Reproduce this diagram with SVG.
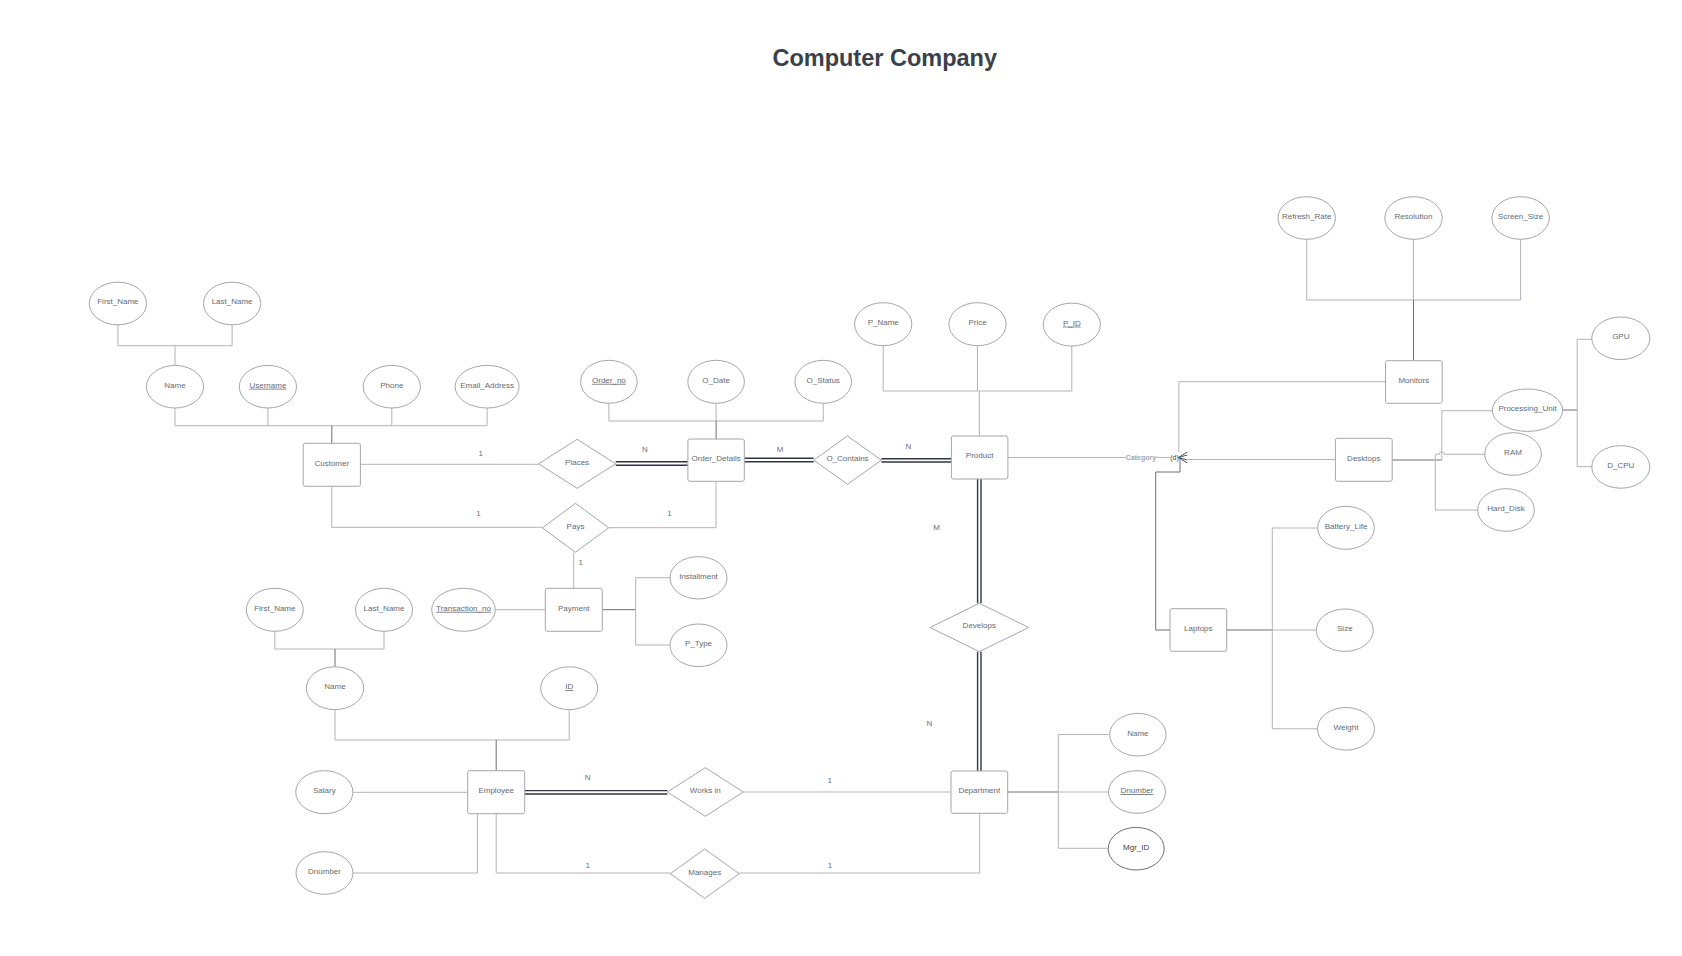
<svg xmlns="http://www.w3.org/2000/svg" width="1682" height="956" viewBox="0 0 1682 956">
<style>
.e{fill:#fff;stroke:#a3a6ab;stroke-width:1}
.b{fill:#fff;stroke:#a3a6ab;stroke-width:1}
.r{fill:#fff;stroke:#a3a6ab;stroke-width:1}
.t{font-family:"Liberation Sans",Arial,sans-serif;font-size:8px;fill:#656a72;text-anchor:middle;transform:translateY(-1.8px)}
.u{text-decoration:underline}
.c{fill:none;stroke:#b0b3b8;stroke-width:1}
.k{fill:none;stroke:#6a6f77;stroke-width:1}
.d{fill:none;stroke:#2f3540;stroke-width:1.4}
.lab{font-family:"Liberation Sans",Arial,sans-serif;font-size:8px;fill:#6a7078;text-anchor:middle}
</style>
<rect width="1682" height="956" fill="#fff"/>
<text x="884.7" y="66" font-family="'Liberation Sans',Arial,sans-serif" font-size="23.5" font-weight="bold" fill="#3a414a" text-anchor="middle">Computer Company</text>

<g id="connectors">
<path class="c" d="M117.9 324.8V345.7H232.1V324.8M175 345.7V365.4"/>
<path class="c" d="M175 408V425.7H487.1V408M267.9 408V425.7M391.8 408V425.7"/>
<path class="k" d="M331.8 425.7V443.3"/>
<path class="c" d="M360.4 464.3H538.6"/>
<path class="d" d="M615.7 461.8H687.9M615.7 465.3H687.9"/>
<path class="c" d="M331.8 486.3V527.3H542.3"/>
<path class="c" d="M608.7 527.7H716V481.3"/>
<path class="c" d="M573.7 552.3V588.3"/>
<path class="c" d="M608.9 403.3V421H823.2V403.3M716.1 403.3V421"/>
<path class="k" d="M716.1 421V439"/>
<path class="d" d="M744.3 458.3H813.6M744.3 461.7H813.6"/>
<path class="d" d="M881.4 458.7H951.4M881.4 462H951.4"/>
<path class="c" d="M883.2 345.5V391H1071.8V346M977.5 345.5V391"/>
<path class="c" d="M979.3 391V436"/>
<path class="d" d="M977.6 479V603.3M981 479V603.3"/>
<path class="d" d="M977.6 651.7V771M981 651.7V771"/>
<path class="c" d="M274.8 631.3V649H384V631.3"/>
<path class="k" d="M335 649V666.7"/>
<path class="c" d="M335 709.6V740H569.2V709.6"/>
<path class="k" d="M496.2 740V770.7"/>
<path class="c" d="M353 792.3H467.7"/>
<path class="c" d="M477.5 813.7V873H352.9"/>
<path class="d" d="M524.7 790.6H667.3M524.7 794H667.3"/>
<path class="c" d="M742.6 792H951"/>
<path class="c" d="M496.2 813.7V873H670.3"/>
<path class="c" d="M739.2 873H979.7V813.3"/>
<path class="k" d="M1007.7 792H1058.3"/>
<path class="c" d="M1058.3 734.5V848.3M1058.3 734.5H1109.3M1058.3 792H1108.5M1058.3 848.3H1108.3"/>
<path class="c" d="M495.3 609.7H545.3"/>
<path class="k" d="M602.3 609.7H635.7"/>
<path class="c" d="M635.7 577.7V645M635.7 577.7H670M635.7 645H670"/>
<path class="c" d="M1007.9 457.5H1170"/>
<rect x="1125.5" y="452.5" width="31" height="9" fill="#fff"/>
<text x="1141" y="459.7" font-family="'Liberation Sans',Arial,sans-serif" font-size="7" font-weight="bold" fill="#a3a6ab" text-anchor="middle">Category</text>
<text x="1174.5" y="460" font-family="'Liberation Sans',Arial,sans-serif" font-size="7" fill="#3a414a" text-anchor="middle">(d)</text>
<path fill="none" stroke="#3a414a" stroke-width="0.9" d="M1187.3 452L1178.5 457.5L1187.3 463M1187.3 455L1178.5 457.5L1187.3 460"/>
<path class="c" d="M1385.5 381.7H1178.9V452"/>
<path class="c" d="M1335.4 459.5H1186"/>
<path class="k" d="M1180 459V472H1155.7V630H1170"/>
<path class="c" d="M1306.7 239.3V300H1520.6V239.3M1413.5 239.3V300"/>
<path class="k" d="M1413.5 300V360.7"/>
<path class="k" d="M1392.2 460H1441.8"/>
<path class="c" d="M1441.8 460V410.7H1492.3"/>
<path class="c" d="M1435.3 460V454.3H1439.3A2.5 2.5 0 0 1 1444.3 454.3H1484.7"/>
<path class="c" d="M1435.3 460V510H1477.7"/>
<path class="k" d="M1562.7 410H1577.2"/>
<path class="c" d="M1577.2 339.3V466.7M1577.2 339.3H1591.8M1577.2 466.7H1591.8"/>
<path class="k" d="M1226.7 630H1272.3"/>
<path class="c" d="M1272.3 528V728.8M1272.3 528H1317.7M1272.3 630H1316.3M1272.3 728.8H1317.4"/>
</g>

<g id="cardinalities">
<text class="lab" x="480.7" y="455.5">1</text>
<text class="lab" x="645" y="451.8">N</text>
<text class="lab" x="478.6" y="516">1</text>
<text class="lab" x="669.5" y="516">1</text>
<text class="lab" x="580.7" y="565">1</text>
<text class="lab" x="780" y="451.8">M</text>
<text class="lab" x="908.5" y="448.8">N</text>
<text class="lab" x="936.6" y="529.8">M</text>
<text class="lab" x="929.3" y="725.8">N</text>
<text class="lab" x="587.7" y="779.5">N</text>
<text class="lab" x="829.8" y="782.8">1</text>
<text class="lab" x="587.7" y="867.8">1</text>
<text class="lab" x="829.9" y="867.8">1</text>
</g>

<g id="Customer"><rect class="b" x="303.2" y="443.3" width="57.2" height="43" rx="2"/><text class="t" x="331.8" y="467.6">Customer</text></g>
<g id="Order_Details"><rect class="b" x="687.9" y="439" width="56.4" height="42.3" rx="2"/><text class="t" x="716.1" y="463">Order_Details</text></g>
<g id="Product"><rect class="b" x="951.4" y="436" width="56.5" height="43" rx="2"/><text class="t" x="979.6" y="460.3">Product</text></g>
<g id="Monitors"><rect class="b" x="1385.5" y="360.7" width="56.7" height="42.6" rx="2"/><text class="t" x="1413.8" y="384.8">Monitors</text></g>
<g id="Desktops"><rect class="b" x="1335.4" y="438.3" width="56.8" height="43" rx="2"/><text class="t" x="1363.8" y="462.6">Desktops</text></g>
<g id="Laptops"><rect class="b" x="1170" y="608.7" width="56.7" height="42.6" rx="2"/><text class="t" x="1198.3" y="632.8">Laptops</text></g>
<g id="Payment"><rect class="b" x="545.3" y="588.3" width="57" height="43" rx="2"/><text class="t" x="573.8" y="612.6">Payment</text></g>
<g id="Employee"><rect class="b" x="467.7" y="770.7" width="57" height="43" rx="2"/><text class="t" x="496.2" y="795">Employee</text></g>
<g id="Department"><rect class="b" x="951" y="771" width="56.7" height="42.3" rx="2"/><text class="t" x="979.3" y="795">Department</text></g>

<g id="Places"><polygon class="r" points="538.6,463.8 577.1,439.3 615.7,463.8 577.1,488.3"/><text class="t" x="577.1" y="466.6">Places</text></g>
<g id="O_Contains"><polygon class="r" points="813.6,460.2 847.5,436 881.4,460.2 847.5,484.3"/><text class="t" x="847.5" y="463">O_Contains</text></g>
<g id="Pays"><polygon class="r" points="542.3,527.8 575.5,503.3 608.7,527.8 575.5,552.3"/><text class="t" x="575.5" y="530.6">Pays</text></g>
<g id="Develops"><polygon class="r" points="930,627.5 979.3,603.3 1028.7,627.5 979.3,651.7"/><text class="t" x="979.3" y="630.3">Develops</text></g>
<g id="Works_in"><polygon class="r" points="667.3,792 705.3,767.7 743.3,792 705.3,816.3"/><text class="t" x="705.3" y="794.8">Works in</text></g>
<g id="Manages"><polygon class="r" points="670.3,873.7 704.7,849 739.2,873.7 704.7,898.3"/><text class="t" x="704.7" y="876.5">Manages</text></g>

<g id="C_First_Name"><ellipse class="e" cx="117.9" cy="303.5" rx="28.6" ry="21.3"/><text class="t" x="117.9" y="306.3">First_Name</text></g>
<g id="C_Last_Name"><ellipse class="e" cx="232.1" cy="303.5" rx="28.6" ry="21.3"/><text class="t" x="232.1" y="306.3">Last_Name</text></g>
<g id="C_Name"><ellipse class="e" cx="175" cy="386.7" rx="28.6" ry="21.3"/><text class="t" x="175" y="389.5">Name</text></g>
<g id="Username"><ellipse class="e" cx="267.9" cy="386.7" rx="28.6" ry="21.3"/><text class="t u" x="267.9" y="389.5">Username</text></g>
<g id="Phone"><ellipse class="e" cx="391.8" cy="386.7" rx="28.6" ry="21.3"/><text class="t" x="391.8" y="389.5">Phone</text></g>
<g id="Email_Address"><ellipse class="e" cx="487.1" cy="386.7" rx="32" ry="21.3"/><text class="t" x="487.1" y="389.5">Email_Address</text></g>

<g id="Order_no"><ellipse class="e" cx="608.9" cy="381.8" rx="28.3" ry="21.5"/><text class="t u" x="608.9" y="384.6">Order_no</text></g>
<g id="O_Date"><ellipse class="e" cx="716.1" cy="381.8" rx="28.3" ry="21.5"/><text class="t" x="716.1" y="384.6">O_Date</text></g>
<g id="O_Status"><ellipse class="e" cx="823.2" cy="381.8" rx="28.3" ry="21.5"/><text class="t" x="823.2" y="384.6">O_Status</text></g>

<g id="P_Name"><ellipse class="e" cx="883.2" cy="324.2" rx="28.6" ry="21.5"/><text class="t" x="883.2" y="327">P_Name</text></g>
<g id="Price"><ellipse class="e" cx="977.5" cy="324.2" rx="28.6" ry="21.5"/><text class="t" x="977.5" y="327">Price</text></g>
<g id="P_ID"><ellipse class="e" cx="1071.8" cy="324.6" rx="28.6" ry="21.5"/><text class="t u" x="1071.8" y="327.4">P_ID</text></g>

<g id="Refresh_Rate"><ellipse class="e" cx="1306.7" cy="218" rx="28.7" ry="21.3"/><text class="t" x="1306.7" y="220.8">Refresh_Rate</text></g>
<g id="Resolution"><ellipse class="e" cx="1413.5" cy="218" rx="28.7" ry="21.3"/><text class="t" x="1413.5" y="220.8">Resolution</text></g>
<g id="Screen_Size"><ellipse class="e" cx="1520.6" cy="218" rx="28.7" ry="21.3"/><text class="t" x="1520.6" y="220.8">Screen_Size</text></g>

<g id="Processing_Unit"><ellipse class="e" cx="1527.5" cy="410.2" rx="35.2" ry="21.2"/><text class="t" x="1527.5" y="413">Processing_Unit</text></g>
<g id="GPU"><ellipse class="e" cx="1620.8" cy="338.3" rx="29" ry="21.3"/><text class="t" x="1620.8" y="341.1">GPU</text></g>
<g id="D_CPU"><ellipse class="e" cx="1620.8" cy="466.9" rx="29" ry="21.3"/><text class="t" x="1620.8" y="469.7">D_CPU</text></g>
<g id="RAM"><ellipse class="e" cx="1513" cy="454" rx="28.3" ry="21.3"/><text class="t" x="1513" y="456.8">RAM</text></g>
<g id="Hard_Disk"><ellipse class="e" cx="1506" cy="510" rx="28.3" ry="21.3"/><text class="t" x="1506" y="512.8">Hard_Disk</text></g>

<g id="Battery_Life"><ellipse class="e" cx="1346" cy="527.8" rx="28.3" ry="21.5"/><text class="t" x="1346" y="530.6">Battery_Life</text></g>
<g id="Size"><ellipse class="e" cx="1344.8" cy="630.2" rx="28.5" ry="21.2"/><text class="t" x="1344.8" y="633">Size</text></g>
<g id="Weight"><ellipse class="e" cx="1346" cy="728.8" rx="28.5" ry="21.3"/><text class="t" x="1346" y="731.6">Weight</text></g>

<g id="Transaction_no"><ellipse class="e" cx="463.5" cy="609.8" rx="31.8" ry="21.5"/><text class="t u" x="463.5" y="612.6">Transaction_no</text></g>
<g id="Installment"><ellipse class="e" cx="698.5" cy="577.8" rx="28.5" ry="21.2"/><text class="t" x="698.5" y="580.6">Installment</text></g>
<g id="P_Type"><ellipse class="e" cx="698.5" cy="645.3" rx="28.5" ry="21.3"/><text class="t" x="698.5" y="648.1">P_Type</text></g>

<g id="E_First_Name"><ellipse class="e" cx="274.8" cy="609.8" rx="28.5" ry="21.5"/><text class="t" x="274.8" y="612.6">First_Name</text></g>
<g id="E_Last_Name"><ellipse class="e" cx="384" cy="609.8" rx="28.5" ry="21.5"/><text class="t" x="384" y="612.6">Last_Name</text></g>
<g id="E_Name"><ellipse class="e" cx="335" cy="688.2" rx="28.7" ry="21.4"/><text class="t" x="335" y="691">Name</text></g>
<g id="ID"><ellipse class="e" cx="569.2" cy="688.2" rx="28.5" ry="21.4"/><text class="t u" x="569.2" y="691">ID</text></g>
<g id="Salary"><ellipse class="e" cx="324.3" cy="792.2" rx="28.6" ry="21.5"/><text class="t" x="324.3" y="795">Salary</text></g>
<g id="E_Dnumber"><ellipse class="e" cx="324.5" cy="873" rx="28.5" ry="21.3"/><text class="t" x="324.5" y="875.8">Dnumber</text></g>

<g id="D_Name"><ellipse class="e" cx="1137.9" cy="734.7" rx="28.2" ry="21.3"/><text class="t" x="1137.9" y="737.5">Name</text></g>
<g id="D_Dnumber"><ellipse class="e" cx="1137" cy="792" rx="28.5" ry="21.3"/><text class="t u" x="1137" y="794.8">Dnumber</text></g>
<g id="Mgr_ID"><ellipse class="e" cx="1136.2" cy="848.7" rx="28" ry="21.3" style="stroke:#6a6f77"/><text class="t" x="1136.2" y="851.5" style="fill:#3a414a">Mgr_ID</text></g>
</svg>
